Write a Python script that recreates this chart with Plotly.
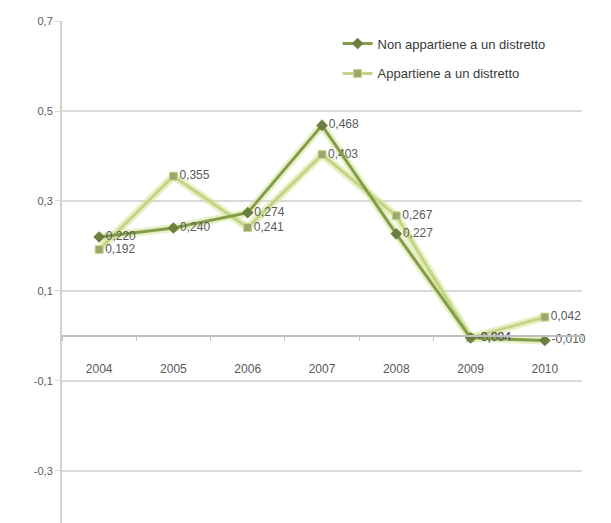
import plotly.graph_objects as go

anni = ["2004", "2005", "2006", "2007", "2008", "2009", "2010"]
non_appartiene = [0.220, 0.240, 0.274, 0.468, 0.227, -0.004, -0.010]
appartiene = [0.192, 0.355, 0.241, 0.403, 0.267, -0.004, 0.042]
nomi = ["Non appartiene a un distretto", "Appartiene a un distretto"]
y_ticks = [0.7, 0.5, 0.3, 0.1, -0.1, -0.3]

Y_MIN, Y_MAX = -0.4156, 0.7


def etichetta(v, cifre=3):
    return f"{v:.{cifre}f}".replace(".", ",")


fig = go.Figure()

# soft glow beneath each series line
for serie in (appartiene, non_appartiene):
    fig.add_trace(go.Scatter(
        x=anni, y=serie, mode="lines", showlegend=False, hoverinfo="skip",
        line=dict(color="rgba(214,228,150,0.55)", width=8),
    ))

fig.add_trace(go.Scatter(
    x=anni, y=appartiene, name=nomi[1], legendgroup="b", legendrank=2,
    mode="lines+markers+text", cliponaxis=False,
    line=dict(color="#c4d486", width=3),
    marker=dict(symbol="square", size=8, color="#9aa86e",
                line=dict(color="#c9d98e", width=1)),
    text=[etichetta(v) for v in appartiene],
    textposition="middle right",
    textfont=dict(family="Liberation Sans", size=12, color="#5a5a5a"),
))
fig.add_trace(go.Scatter(
    x=anni, y=non_appartiene, name=nomi[0], legendgroup="a", legendrank=1,
    mode="lines+markers+text", cliponaxis=False,
    line=dict(color="#839c49", width=3),
    marker=dict(symbol="diamond", size=9, color="#6b8040"),
    text=[etichetta(v) for v in non_appartiene],
    textposition="middle right",
    textfont=dict(family="Liberation Sans", size=12, color="#5a5a5a"),
))

fig.update_layout(
    width=611, height=523,
    margin=dict(l=62, r=29, t=21, b=0),
    paper_bgcolor="white", plot_bgcolor="white",
    font=dict(family="Liberation Sans", size=11, color="#595959"),
    showlegend=True,
    legend=dict(
        x=0.53, y=0.985, xanchor="left", yanchor="top",
        traceorder="grouped", tracegroupgap=10,
        font=dict(size=13, color="#3a3a3a"),
        bgcolor="rgba(255,255,255,0)",
    ),
    xaxis=dict(
        type="category", categoryorder="array", categoryarray=anni,
        anchor="free", position=(0 - Y_MIN) / (Y_MAX - Y_MIN),
        showline=True, linecolor="#bfbfbf", linewidth=1.5,
        showgrid=False, ticks="outside", ticklen=4, tickcolor="#bfbfbf",
        tickson="boundaries", ticklabelstandoff=22,
        tickfont=dict(size=12, color="#595959"),
        range=[-0.5, 6.5], zeroline=False,
    ),
    yaxis=dict(
        range=[Y_MIN, Y_MAX], tickvals=y_ticks,
        ticktext=[etichetta(v, 1) for v in y_ticks],
        showgrid=True, gridcolor="#d9d9d9", gridwidth=2,
        zeroline=False, showline=True, linecolor="#cfcfcf", linewidth=2,
        ticks="outside", ticklen=5, tickcolor="#d9d9d9",
        tickfont=dict(size=11, color="#595959"),
    ),
)

fig.write_html("out.html")
